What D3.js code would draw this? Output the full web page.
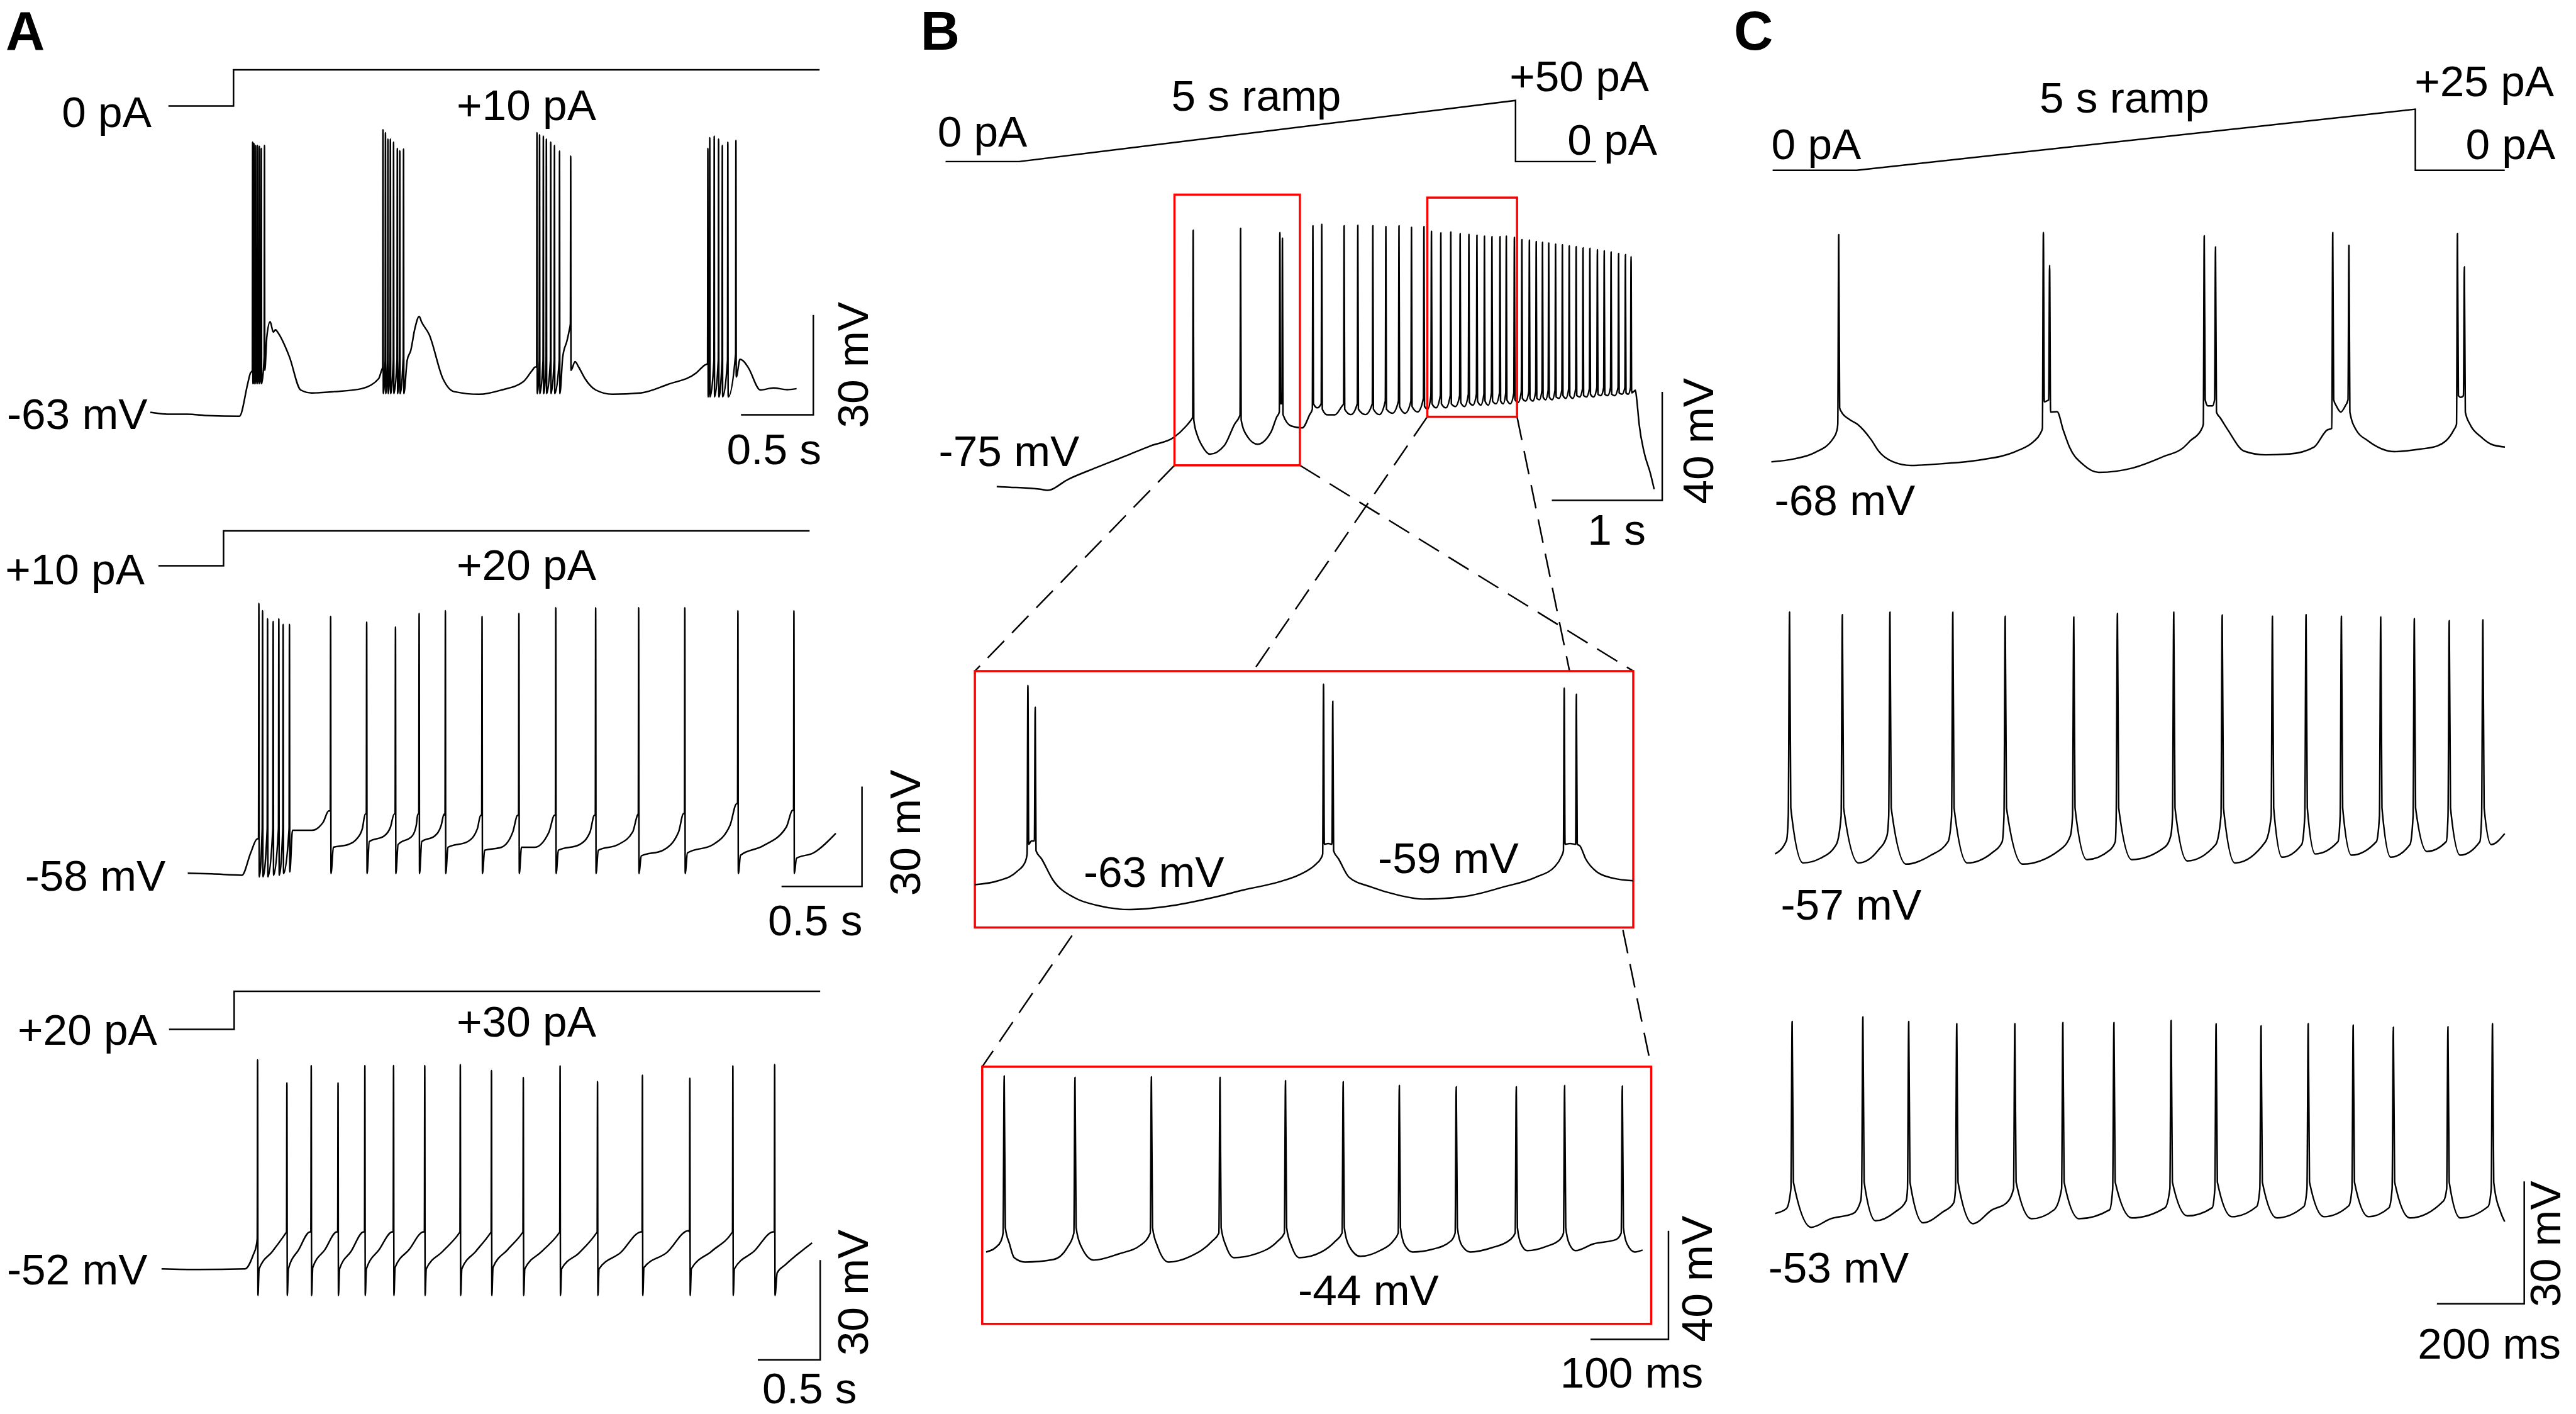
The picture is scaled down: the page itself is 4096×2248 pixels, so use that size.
<!DOCTYPE html>
<html><head><meta charset="utf-8">
<script src="https://cdn.jsdelivr.net/npm/d3@7"></script>
<style>
html,body{margin:0;padding:0;background:#fff;}
svg{display:block;}
text{font-family:"Liberation Sans",Arial,Helvetica,sans-serif;fill:#000;}
</style>
</head><body>
<svg id="fig" width="4096" height="2248"></svg>
<script>
// ====================== DATA (time in s, voltage in mV, current in pA) ======================
const panelLetters = ["A", "B", "C"];

// current commands
const cmdA1 = [[0,0],[0.45,0],[0.45,10],[4.5,10]];
const cmdA2 = [[0,10],[0.45,10],[0.45,20],[4.5,20]];
const cmdA3 = [[0,20],[0.45,20],[0.45,30],[4.5,30]];
const cmdB  = [[0,0],[0.74,0],[5.74,50],[5.74,0],[6.55,0]];
const cmdC  = [[0,0],[0.75,0],[5.75,25],[5.75,0],[6.55,0]];

// label texts
const aStepBefore = ["0 pA", "+10 pA", "+20 pA"];
const aStepAfter  = ["+10 pA", "+20 pA", "+30 pA"];
const aRestLabels = ["-63 mV", "-58 mV", "-52 mV"];
const bCmdLabels  = ["0 pA", "5 s ramp", "+50 pA", "0 pA"];
const cCmdLabels  = ["0 pA", "5 s ramp", "+25 pA", "0 pA"];
const bVmLabels   = ["-75 mV", "-63 mV", "-59 mV", "-44 mV"];
const cRestLabels = ["-68 mV", "-57 mV", "-53 mV"];
const scaleBars = [ // [trace, seconds, mV, time label, voltage label]
  ["a1", 0.5, 30, "0.5 s", "30 mV"],
  ["a2", 0.5, 30, "0.5 s", "30 mV"],
  ["a3", 0.5, 30, "0.5 s", "30 mV"],
  ["b1", 1.0, 40, "1 s", "40 mV"],
  ["b3", 0.1, 40, "100 ms", "40 mV"],
  ["c3", 0.2, 30, "200 ms", "30 mV"]
];

// zoom windows on B traces: [tStart, tEnd, vTop, vBottom]
const bBoxes = [[1.61, 2.746, 33.1, -66.7], [3.90, 4.713, 32, -48.8]];
const b2Window = [0, 1.135, 10, -68.5];
const b3Window = [-0.005, 0.853, 27.3, -67.5];

// ---------- A1: 0 -> +10 pA ----------  knots [t, mV]; spikes [t, peak, pre, post]
const a1Knots = [[0,-62.6],[0.13,-63.2],[0.254,-63.2],[0.4,-63.6],[0.616,-63.8],[0.672,-54.2],[0.69,-51],
 [0.805,-40],[0.828,-35.4],[0.85,-38.5],[0.865,-37.8],[0.884,-38.8],[0.961,-45.9],[1.039,-55.9],[1.116,-56.8],[1.272,-56.4],[1.461,-55.5],[1.578,-52.5],[1.598,-50],
 [1.775,-47],[1.80,-44],[1.828,-37.5],[1.858,-33.8],[1.875,-35.5],[1.927,-39.2],[2.022,-52.5],[2.099,-56.4],[2.272,-57.2],[2.427,-55.9],[2.578,-53.4],[2.638,-50.1],[2.66,-49],
 [2.85,-46],[2.88,-41],[2.895,-38],
 [2.935,-47.4],[2.96,-49],[3.004,-52.5],[3.078,-55.9],[3.194,-57.2],[3.388,-56.8],[3.578,-54.2],[3.772,-50.8],[3.832,-48.4],
 [4.075,-46.7],[4.105,-47.5],[4.134,-49.3],[4.216,-55.9],[4.306,-55.3],[4.4,-55.8],[4.466,-55.5]];
const a1Spikes = [
 [0.707,18.6,-50,-54],[0.716,18.2,-47,-54],[0.728,17.6,-47,-54],[0.741,17.6,-47,-54],[0.754,17.3,-47,-54],[0.767,16.7,-47,-54],[0.789,17.6,-46,-50],
 [1.608,22.3,-49,-57],[1.625,21.4,-47,-57],[1.642,19.5,-47,-57],[1.659,19.5,-47,-57],[1.681,18.6,-47,-57],[1.707,16.7,-47,-57],[1.724,16.0,-47,-57],[1.750,16.5,-46,-57],
 [2.672,21.4,-49,-57],[2.690,20.8,-47,-57],[2.716,20.4,-47,-57],[2.737,19.5,-47,-57],[2.767,18.6,-47,-57],[2.793,17.6,-47,-57],[2.828,15.9,-47,-57],[2.905,14.4,-36,-50],
 [3.853,16.7,-48,-58],[3.866,19.9,-47,-58],[3.897,20.4,-47,-58],[3.927,19.5,-47,-58],[3.953,17.6,-47,-58],[3.991,18.6,-47,-58],[4.047,19.1,-45,-52]];

// ---------- A2: +10 -> +20 pA ----------
const a2Knots = [[0,-57.4],[0.15,-57.6],[0.337,-58],[0.391,-51.3],[0.43,-47.1],
 [0.651,-44.5],[0.771,-44.5],[0.841,-42.1],[0.876,-38.7],
 [0.905,-49.6],[0.996,-48.8],[1.05,-47.1],[1.085,-44],[1.103,-39.6],
 [1.128,-47.9],[1.221,-46.2],[1.26,-43.5],[1.283,-39.6],
 [1.307,-48.8],[1.395,-46.2],[1.42,-43],[1.43,-39.6],
 [1.454,-47.9],[1.535,-46.2],[1.575,-43],[1.593,-39.6],
 [1.617,-49.6],[1.74,-47.9],[1.80,-44],[1.82,-40],
 [1.845,-50.5],[1.95,-49.6],[2.02,-45],[2.05,-40],
 [2.074,-49.6],[2.155,-49.6],[2.245,-45],[2.279,-40],
 [2.303,-50.5],[2.434,-48.8],[2.5,-45],[2.527,-40],
 [2.551,-50.5],[2.674,-48.8],[2.765,-45],[2.794,-40],
 [2.818,-52.2],[2.953,-50.5],[3.05,-45],[3.081,-39.5],
 [3.105,-51.3],[3.264,-48.8],[3.37,-43],[3.411,-36.5],
 [3.435,-52],[3.574,-49.2],[3.72,-43.5],[3.759,-38.5],
 [3.783,-52.9],[3.888,-51.3],[4.027,-45.4]];
const a2Spikes = [
 [0.442,23.7,-47,-58.5],[0.465,21.5,-44,-58.5],[0.496,19.1,-44,-58.5],[0.531,18.3,-44,-58],[0.566,19.1,-44,-58],[0.593,17.4,-44,-57.5],[0.632,17.4,-44,-57],
 [0.888,19.8,-38.7,-57.5],[1.112,18.1,-39.6,-57.5],[1.291,16.6,-39.6,-57.5],[1.438,20.7,-39.6,-57.5],[1.601,21.5,-40,-57.5],[1.829,19.8,-40,-57.5],[2.058,20.7,-40,-57.5],
 [2.287,22.4,-40,-57.5],[2.535,22.4,-40,-57.5],[2.802,22.4,-39.5,-57.5],[3.089,22.4,-39.5,-57.5],[3.419,21.5,-36.5,-57.5],[3.767,21.5,-38.5,-57.5]];

// ---------- A3: +20 -> +30 pA ----------
const a3Knots = [[0,-52],[0.3,-52.2],[0.67,-52],[0.735,-47.8],[0.76,-44.9],
 [0.782,-52],[0.89,-46.7],[0.995,-41.3],
 [1.017,-52],[1.1,-46.2],[1.19,-40.9],
 [1.212,-51.6],[1.31,-46.2],[1.405,-40.9],
 [1.427,-52],[1.52,-46.7],[1.62,-40.9],
 [1.642,-52],[1.745,-46.2],[1.85,-40.9],
 [1.872,-51.6],[1.985,-46.2],[2.1,-40.9],
 [2.122,-52],[2.255,-46.7],[2.385,-41.3],
 [2.407,-52],[2.52,-46.7],[2.635,-41.3],
 [2.657,-51.6],[2.775,-46.2],[2.89,-41.3],
 [2.912,-52],[3.05,-46.7],[3.185,-41.3],
 [3.207,-52],[3.35,-47.1],[3.485,-41.3],
 [3.507,-52],[3.68,-47.1],[3.845,-40.9],
 [3.867,-51.6],[4.05,-47.1],[4.225,-40.5],
 [4.247,-52],[4.41,-46.7],[4.57,-41.3],
 [4.592,-52],[4.75,-46.7],[4.905,-40.9],
 [4.935,-53.2],[5.0,-50.8],[5.215,-44.2]];
const a3Spikes = [[0.77,10.8,-42.9,-60],[1.005,3.9,-40.9,-60],[1.2,9.1,-40.9,-60],[1.415,3.9,-40.9,-60],[1.63,9.1,-40.9,-60],
 [1.86,9.1,-40.9,-60],[2.11,9.1,-40.9,-60],[2.395,9.4,-40.9,-60],[2.645,7.6,-40.9,-60],[2.9,5.5,-40.9,-60],[3.195,9.0,-40.9,-60],
 [3.495,4.3,-40.9,-60],[3.855,6.2,-40.9,-60],[4.235,5.3,-40.9,-60],[4.58,9.0,-40.9,-60],[4.915,9.4,-40.9,-60]];

// ---------- B1: 5 s ramp to +50 pA ----------
const b1Knots = [[0,-74.5],[0.12,-74.8],[0.237,-75],[0.395,-75.5],[0.458,-75.9],[0.65,-71.8],[0.898,-67.6],[1.153,-63.5],[1.401,-59.4],[1.605,-56.4],[1.71,-52.5],[1.76,-50],
 [1.82,-56],[1.859,-59.4],[1.932,-62.6],[2.062,-59.4],[2.158,-51.3],[2.195,-49],
 [2.271,-56.1],[2.362,-58.9],[2.486,-54.3],[2.535,-49],
 [2.667,-52.2],[2.768,-52.9],[2.835,-48],[2.904,-45.5],
 [2.994,-48.1],[3.062,-48.1],[3.125,-45],
 [3.209,-48],[3.339,-48],[3.466,-48],[3.585,-47.5],[3.70,-47.5],[3.813,-47],[3.904,-46],
 [3.98,-45.5],[4.068,-45.5],[4.155,-45],[4.237,-45],[4.313,-44.5],[4.384,-44.5],[4.452,-44.5],[4.522,-44],[4.587,-44],[4.652,-44],[4.723,-43.5],
 [4.791,-43],[4.856,-43],[4.915,-42.5],[4.972,-42.5],[5.031,-42.5],[5.093,-42],[5.155,-42],[5.218,-42],[5.28,-41.5],[5.342,-41.5],[5.407,-41.5],
 [5.472,-41],[5.534,-41],[5.599,-41],[5.664,-40.5],[5.72,-40.5],
 [5.77,-39.5],[5.785,-39],[5.797,-42.3],[5.819,-51.5],[5.864,-61.9],[5.921,-69.7],[5.955,-75.5]];
const b1Spikes = [[1.780,20.0,-49,-50],[2.209,20.7,-48,-50],[2.565,19.1,-47,-44],[2.588,17.0,-44,-48],[2.864,21.6,-46,-44],[2.944,22.1,-44,-46],
 [3.147,21.6,-44,-46],[3.271,21.8,-44,-46],[3.407,21.6,-44,-46],[3.525,21.3,-43,-46],[3.644,21.6,-43,-45],[3.757,21.0,-43,-45],[3.870,21.3,-42,-45],
 [3.938,19.6,-41,-44],[4.023,19.0,-41,-44],[4.113,19.3,-41,-44],[4.198,18.7,-41,-43.5],[4.277,18.4,-40.5,-43.5],[4.350,18.1,-40.5,-43],[4.418,17.8,-40.5,-43],
 [4.486,17.6,-40,-43],[4.559,17.6,-40,-43],[4.616,17.8,-40,-42.5],[4.689,17.3,-40,-42.5],
 [4.757,16.5,-39.5,-42],[4.825,16.3,-39.5,-42],[4.887,15.8,-39.5,-42],[4.944,15.5,-39,-41.5],[5.0,15.2,-39,-41.5],[5.062,14.8,-39,-41.5],[5.124,14.6,-39,-41],
 [5.186,14.2,-38.5,-41],[5.249,13.9,-38.5,-41],[5.311,13.5,-38.5,-41],[5.373,13.3,-38.5,-40.5],[5.441,12.8,-38,-40.5],[5.503,12.4,-38,-40.5],[5.565,12.0,-38,-40.5],
 [5.633,11.4,-38,-40],[5.695,11.0,-38,-40],[5.746,10.3,-38,-40]];

// ---------- B2: expanded first window ----------
const b2Knots = [[0,-55.4],[0.04,-54.2],[0.073,-51.3],[0.087,-48.3],[0.0975,-42],
 [0.115,-47.5],[0.134,-53.8],[0.172,-59.4],[0.21,-61.7],[0.267,-63],[0.333,-62],[0.409,-59.4],[0.466,-56.9],[0.523,-54.6],[0.56,-52.3],[0.588,-49.1],[0.596,-47.5],[0.609,-42.8],
 [0.627,-47.5],[0.645,-53.1],[0.683,-56.1],[0.73,-58.6],[0.773,-59.8],[0.844,-59],[0.911,-56.1],[0.967,-53.1],[1.0,-49.8],[1.011,-46.8],[1.026,-42.8],
 [1.043,-43.5],[1.053,-47.5],[1.071,-51.3],[1.1,-53.4],[1.135,-54.2]];
const b2Spikes = [[0.0914,5.6,-46,-43],[0.104,-1.1,-42,-45],[0.601,6.0,-46,-43],[0.617,0.8,-43,-45],[1.016,4.8,-45,-43],[1.037,2.9,-43,-43]];

// ---------- B3: expanded second window ----------
const b3Knots = [[0,-41],[0.012,-39.4],[0.019,-37],
 [0.03,-38],[0.036,-43.1],[0.05,-44.7],[0.086,-43.8],[0.104,-39.4],
 [0.122,-39],[0.138,-44],[0.17,-41.7],[0.198,-38.5],
 [0.22,-39],[0.234,-44.7],[0.262,-42.6],[0.29,-37],
 [0.308,-39],[0.318,-43.1],[0.346,-41.7],[0.374,-37],
 [0.392,-39],[0.402,-43.1],[0.43,-41],[0.448,-37],
 [0.466,-39],[0.48,-42.6],[0.505,-40.5],[0.522,-37],
 [0.537,-38.5],[0.547,-41],[0.571,-40.1],[0.596,-37],
 [0.61,-38.5],[0.621,-41],[0.649,-39.4],[0.672,-36.5],
 [0.686,-38],[0.694,-40.5],[0.719,-38.9],[0.736,-36.4],
 [0.748,-38],[0.756,-40.5],[0.779,-38],[0.808,-36.4],
 [0.822,-38],[0.832,-41],[0.842,-40.3]];
const b3Spikes = [[0.0232,23.9,-34,-32],[0.114,23.4,-34,-32],[0.212,23.6,-34,-32],[0.3,23.4,-34,-32],[0.384,22.2,-34,-32],[0.458,21.8,-34,-32],
 [0.53,20.4,-34,-32],[0.603,19.9,-34,-32],[0.68,19.9,-34,-32],[0.742,20.4,-34,-32],[0.816,20.2,-34,-32]];

// ---------- C1: 5 s ramp to +25 pA ----------
const c1Knots = [[0,-66.2],[0.2,-65.5],[0.385,-64.0],[0.553,-60.5],[0.587,-58.5],
 [0.626,-53.9],[0.698,-55.8],[0.771,-57],[0.894,-60.8],[0.961,-63.6],[1.089,-66.2],[1.251,-67.1],[1.564,-66.6],[1.827,-65.9],[2.212,-63.4],[2.346,-61.3],[2.408,-59.3],
 [2.465,-51.3],
 [2.559,-53.9],[2.615,-58.5],[2.67,-62.6],[2.793,-66.9],[2.933,-68.8],[3.24,-67.7],[3.514,-64.9],[3.687,-62.8],[3.754,-61],[3.849,-58.4],
 [3.91,-52.5],[3.95,-52.5],
 [4.022,-55.5],[4.089,-58.4],[4.235,-63.6],[4.425,-64.5],[4.637,-64.3],[4.86,-62.6],[4.978,-58.4],
 [5.06,-52.5],[5.10,-54],[5.14,-52.5],
 [5.24,-58.5],[5.341,-61],[5.581,-63.7],[5.81,-63.1],[5.966,-62.3],[6.112,-58.4],
 [6.175,-50.4],
 [6.257,-57],[6.352,-60],[6.447,-61.9],[6.57,-62.6]];
const c1Spikes = [[0.603,-10.5,-57,-53],[2.436,-10.0,-58,-51.5],[2.492,-18.0,-51,-54],[3.877,-10.8,-57,-51],[3.978,-13.5,-51,-54],
 [5.028,-10.0,-58,-51],[5.173,-13.1,-51,-54],[6.145,-10.2,-57,-50],[6.207,-18.4,-50,-54]];

// ---------- C2 ----------
const c2Knots = [[0,-55.3],[0.026,-52],
 [0.064,-57.5],[0.103,-56.4],[0.14,-53],
 [0.191,-57.5],[0.236,-54.4],[0.256,-50.9],
 [0.3,-57.8],[0.357,-55.6],[0.396,-52.3],
 [0.44,-57.5],[0.497,-55],[0.52,-52.3],
 [0.567,-57.8],[0.651,-54.4],[0.676,-50.9],
 [0.714,-56.7],[0.766,-54.4],[0.779,-52.3],
 [0.817,-56.7],[0.893,-53.6],[0.906,-50.9],
 [0.944,-57],[1.009,-53],
 [1.053,-57.5],[1.123,-52.3],
 [1.161,-56.1],[1.206,-53],
 [1.237,-55.3],[1.289,-52.3],
 [1.32,-55.6],[1.377,-52.3],
 [1.41,-56.1],[1.454,-53],
 [1.493,-54.7],[1.537,-52.3],
 [1.569,-55.6],[1.614,-52.3],
 [1.64,-53],[1.671,-50.3]];
const c2Spikes = [[0.033,4.0,-46,-44],[0.154,3.4,-46,-44],[0.263,4.0,-46,-44],[0.407,4.0,-46,-44],[0.527,3.0,-46,-44],[0.684,2.8,-46,-44],
 [0.784,3.7,-46,-44],[0.913,4.0,-46,-44],[1.024,3.3,-46,-44],[1.139,3.0,-46,-44],[1.216,3.4,-46,-44],[1.297,3.0,-46,-44],[1.387,2.8,-46,-44],
 [1.464,2.4,-46,-44],[1.544,1.9,-46,-44],[1.621,2.1,-46,-44]];

// ---------- C3 ----------
const c3Knots = [[0,-51.5],[0.026,-50.3],
 [0.083,-54.9],[0.127,-52.8],[0.179,-51.5],[0.196,-48.4],
 [0.23,-53.3],[0.274,-51.2],[0.3,-48.4],
 [0.339,-53.8],[0.383,-51.2],[0.409,-48.9],
 [0.453,-54.0],[0.497,-50.6],[0.53,-48.9],
 [0.587,-52.8],[0.639,-50.6],
 [0.696,-52.8],[0.766,-50.6],
 [0.817,-52.6],[0.893,-50.1],
 [0.944,-52.1],[1.001,-50.1],
 [1.046,-52.3],[1.103,-49.8],
 [1.149,-52.6],[1.211,-49.8],
 [1.257,-52.3],[1.314,-49.6],
 [1.359,-52.3],[1.406,-50.1],
 [1.454,-52.6],[1.531,-48.4],
 [1.569,-52.6],[1.633,-49.8],
 [1.662,-51.3],[1.671,-53.5]];
const c3Spikes = [[0.039,-4.4,-45.4,-43.8],[0.201,-3.3,-45.4,-43.8],[0.306,-4.4,-45.4,-43.8],[0.416,-4.95,-45.4,-43.8],[0.549,-4.95,-45.4,-43.8],[0.659,-4.7,-45.4,-43.8],
 [0.776,-4.7,-45.4,-43.8],[0.907,-4.2,-45.4,-43.8],[1.01,-5.0,-45.4,-43.8],[1.113,-5.5,-45.4,-43.8],[1.221,-4.95,-45.4,-43.8],[1.324,-5.3,-45.4,-43.8],[1.416,-5.8,-45.4,-43.8],
 [1.541,-5.7,-45.4,-43.8],[1.643,-4.95,-45.4,-43.8]];

// ====================== LAYOUT (reference pixel space) ======================
const K = 4096 / 4130;
const FS = 70, FS_LETTER = 87, LW = 2.5;
const traceLayout = { // sw = half-width of a spike in px
  a1: {x0: 241, pxs: 232, yRef: 663, vRef: -63, pxmv: 160/30, sw: 0.5},
  a2: {x0: 301, pxs: 258, yRef: 1403, vRef: -58, pxmv: 160/30, sw: 0.6},
  a3: {x0: 259, pxs: 200, yRef: 2034, vRef: -52, pxmv: 160/30, sw: 0.6},
  b1: {x0: 1598, pxs: 177, yRef: 782, vRef: -75, pxmv: 4.348, sw: 0.9},
  b2: {x0: 1563, pxs: 930, yRef: 1458, vRef: -63, pxmv: 5.236, sw: 1.3},
  b3: {x0: 1581, pxs: 1250, yRef: 2020, vRef: -44, pxmv: 4.348, sw: 1.8},
  c1: {x0: 2840, pxs: 179, yRef: 752, vRef: -68, pxmv: 6.536, sw: 1.5},
  c2: {x0: 2846, pxs: 700, yRef: 1380, vRef: -57, pxmv: 6.536, sw: 2.0},
  c3: {x0: 2846, pxs: 700, yRef: 1955, vRef: -53, pxmv: 6.536, sw: 2.0}
};
const cmdLayout = {
  a1: {x0: 270, pxs: 232, yRef: 170, iRef: 0, pxpa: 5.8},
  a2: {x0: 254, pxs: 232, yRef: 907, iRef: 10, pxpa: 5.6},
  a3: {x0: 271, pxs: 232, yRef: 1650, iRef: 20, pxpa: 6.1},
  b:  {x0: 1516, pxs: 159.2, yRef: 259, iRef: 0, pxpa: 1.96},
  c:  {x0: 2842, pxs: 179.2, yRef: 273, iRef: 0, pxpa: 3.92}
};
const barCorners = {a1: [1304, 665], a2: [1382, 1421], a3: [1315, 2180], b1: [2665, 802], b3: [2675, 2147], c3: [4047, 2090]};
const barTimeLabelPos = {a1: [1241, 744], a2: [1307, 1499], a3: [1298, 2250], b1: [2592, 873], b3: [2616, 2224], c3: [3991, 2178]};
const barVoltLabelPos = {a1: [1366, 585], a2: [1450, 1335], a3: [1366, 2072], b1: [2722, 707], b3: [2720, 2050], c3: [4080, 1994]};

// ====================== DRAW ======================
const svg = d3.select("#fig");
svg.append("rect").attr("width", 4096).attr("height", 2248).attr("fill", "#fff");
const root = svg.append("g").attr("transform", `scale(${K})`);

function scalesFor(L) {
  return {
    x: d3.scaleLinear().domain([0, 1]).range([L.x0, L.x0 + L.pxs]),
    y: d3.scaleLinear().domain([L.vRef, L.vRef + 1]).range([L.yRef, L.yRef - L.pxmv]),
    sw: L.sw
  };
}
function tracePoints(knots, spikes, S) {
  const ev = [];
  knots.forEach(k => ev.push({t: k[0], o: 1, p: [[S.x(k[0]), S.y(k[1])]]}));
  spikes.forEach(s => {
    const x = S.x(s[0]);
    ev.push({t: s[0], o: 0, p: [[x - S.sw, S.y(s[2])], [x, S.y(s[1])], [x + S.sw, S.y(s[3])]]});
  });
  ev.sort((a, b) => a.t - b.t || a.o - b.o);
  const pts = [];
  ev.forEach(e => e.p.forEach(p => {
    let q = p;
    if (pts.length && q[0] <= pts[pts.length - 1][0] + 0.05) q = [pts[pts.length - 1][0] + 0.2, q[1]];
    pts.push(q);
  }));
  return pts;
}
function drawTrace(key, knots, spikes) {
  const S = scalesFor(traceLayout[key]);
  root.append("path")
    .attr("d", d3.line().curve(d3.curveMonotoneX)(tracePoints(knots, spikes, S)))
    .attr("fill", "none").attr("stroke", "#000").attr("stroke-width", LW)
    .attr("stroke-linejoin", "round");
  return S;
}
function drawCmd(key, data) {
  const L = cmdLayout[key];
  const x = d3.scaleLinear().domain([0, 1]).range([L.x0, L.x0 + L.pxs]);
  const y = d3.scaleLinear().domain([L.iRef, L.iRef + 1]).range([L.yRef, L.yRef - L.pxpa]);
  root.append("path").attr("d", d3.line().x(d => x(d[0])).y(d => y(d[1]))(data))
    .attr("fill", "none").attr("stroke", "#000").attr("stroke-width", LW);
}
function label(txt, x, y, anchor, size, weight) {
  root.append("text").attr("x", x).attr("y", y).attr("text-anchor", anchor || "start")
    .attr("font-size", size || FS).attr("font-weight", weight || "normal").text(txt);
}
function vlabel(txt, cx, cy) {
  root.append("text").attr("transform", `translate(${cx + 25},${cy}) rotate(-90)`)
    .attr("text-anchor", "middle").attr("font-size", FS).text(txt);
}

// panel letters
label(panelLetters[0], 9, 80, "start", FS_LETTER, "bold");
label(panelLetters[1], 1476, 80, "start", FS_LETTER, "bold");
label(panelLetters[2], 2780, 80, "start", FS_LETTER, "bold");

// ---- commands
drawCmd("a1", cmdA1); drawCmd("a2", cmdA2); drawCmd("a3", cmdA3);
drawCmd("b", cmdB); drawCmd("c", cmdC);

// A labels
[[243, 204], [232, 937], [252, 1675]].forEach((p, i) => label(aStepBefore[i], p[0], p[1], "end"));
[[844, 193], [844, 930], [844, 1662]].forEach((p, i) => label(aStepAfter[i], p[0], p[1], "middle"));
[[11, 688], [40, 1428], [11, 2059]].forEach((p, i) => label(aRestLabels[i], p[0], p[1], "start"));
// B command labels
label(bCmdLabels[0], 1503, 235, "start");
label(bCmdLabels[1], 2014, 177, "middle");
label(bCmdLabels[2], 2532, 146, "middle");
label(bCmdLabels[3], 2585, 248, "middle");
// C command labels
label(cCmdLabels[0], 2840, 255, "start");
label(cCmdLabels[1], 3406, 180, "middle");
label(cCmdLabels[2], 3983, 154, "middle");
label(cCmdLabels[3], 4097, 255, "end");

// ---- dashed connectors + boxes in B
const sB1 = scalesFor(traceLayout.b1), sB2 = scalesFor(traceLayout.b2), sB3 = scalesFor(traceLayout.b3);
function boxRect(S, w) { return {x1: S.x(w[0]), x2: S.x(w[1]), y1: S.y(w[2]), y2: S.y(w[3])}; }
const r1 = boxRect(sB1, bBoxes[0]), r2 = boxRect(sB1, bBoxes[1]);
const r3 = boxRect(sB2, b2Window), r4 = boxRect(sB3, b3Window);
const connectors = [[r1.x1, r1.y2, r3.x1, r3.y1], [r1.x2, r1.y2, r3.x2, r3.y1], [r2.x1, r2.y2, r4.x1, r4.y1], [r2.x2, r2.y2, r4.x2, r4.y1]];
connectors.forEach(c => root.append("line").attr("x1", c[0]).attr("y1", c[1]).attr("x2", c[2]).attr("y2", c[3])
  .attr("stroke", "#000").attr("stroke-width", LW).attr("stroke-dasharray", "38,18"));
[r3, r4].forEach(r => root.append("rect").attr("x", r.x1).attr("y", r.y1).attr("width", r.x2 - r.x1).attr("height", r.y2 - r.y1)
  .attr("fill", "#fff").attr("stroke", "#ff0000").attr("stroke-width", 3.5));

// ---- traces
drawTrace("a1", a1Knots, a1Spikes);
drawTrace("a2", a2Knots, a2Spikes);
drawTrace("a3", a3Knots, a3Spikes);
drawTrace("b1", b1Knots, b1Spikes);
drawTrace("b2", b2Knots, b2Spikes);
drawTrace("b3", b3Knots, b3Spikes);
drawTrace("c1", c1Knots, c1Spikes);
drawTrace("c2", c2Knots, c2Spikes);
drawTrace("c3", c3Knots, c3Spikes);

// red boxes on B1 (on top)
[r1, r2].forEach(r => root.append("rect").attr("x", r.x1).attr("y", r.y1).attr("width", r.x2 - r.x1).attr("height", r.y2 - r.y1)
  .attr("fill", "none").attr("stroke", "#ff0000").attr("stroke-width", 3.5));

// B voltage labels
label(bVmLabels[0], 1505, 747, "start");
label(bVmLabels[1], 1850, 1422, "middle");
label(bVmLabels[2], 2322, 1400, "middle");
label(bVmLabels[3], 2194, 2092, "middle");
// C rest labels
[[2845, 826], [2855, 1474], [2835, 2056]].forEach((p, i) => label(cRestLabels[i], p[0], p[1], "start"));

// ---- scale bars
scaleBars.forEach(sb => {
  const [key, dt, dv, tl, vl] = sb;
  const S = scalesFor(traceLayout[key]);
  const w = S.x(dt) - S.x(0), h = S.y(0) - S.y(dv);
  const [cx, cy] = barCorners[key];
  root.append("path").attr("d", `M${cx - w},${cy}L${cx},${cy}L${cx},${cy - Math.abs(h)}`)
    .attr("fill", "none").attr("stroke", "#000").attr("stroke-width", LW);
  label(tl, barTimeLabelPos[key][0], barTimeLabelPos[key][1], "middle");
  vlabel(vl, barVoltLabelPos[key][0], barVoltLabelPos[key][1]);
});
</script>
</body></html>
